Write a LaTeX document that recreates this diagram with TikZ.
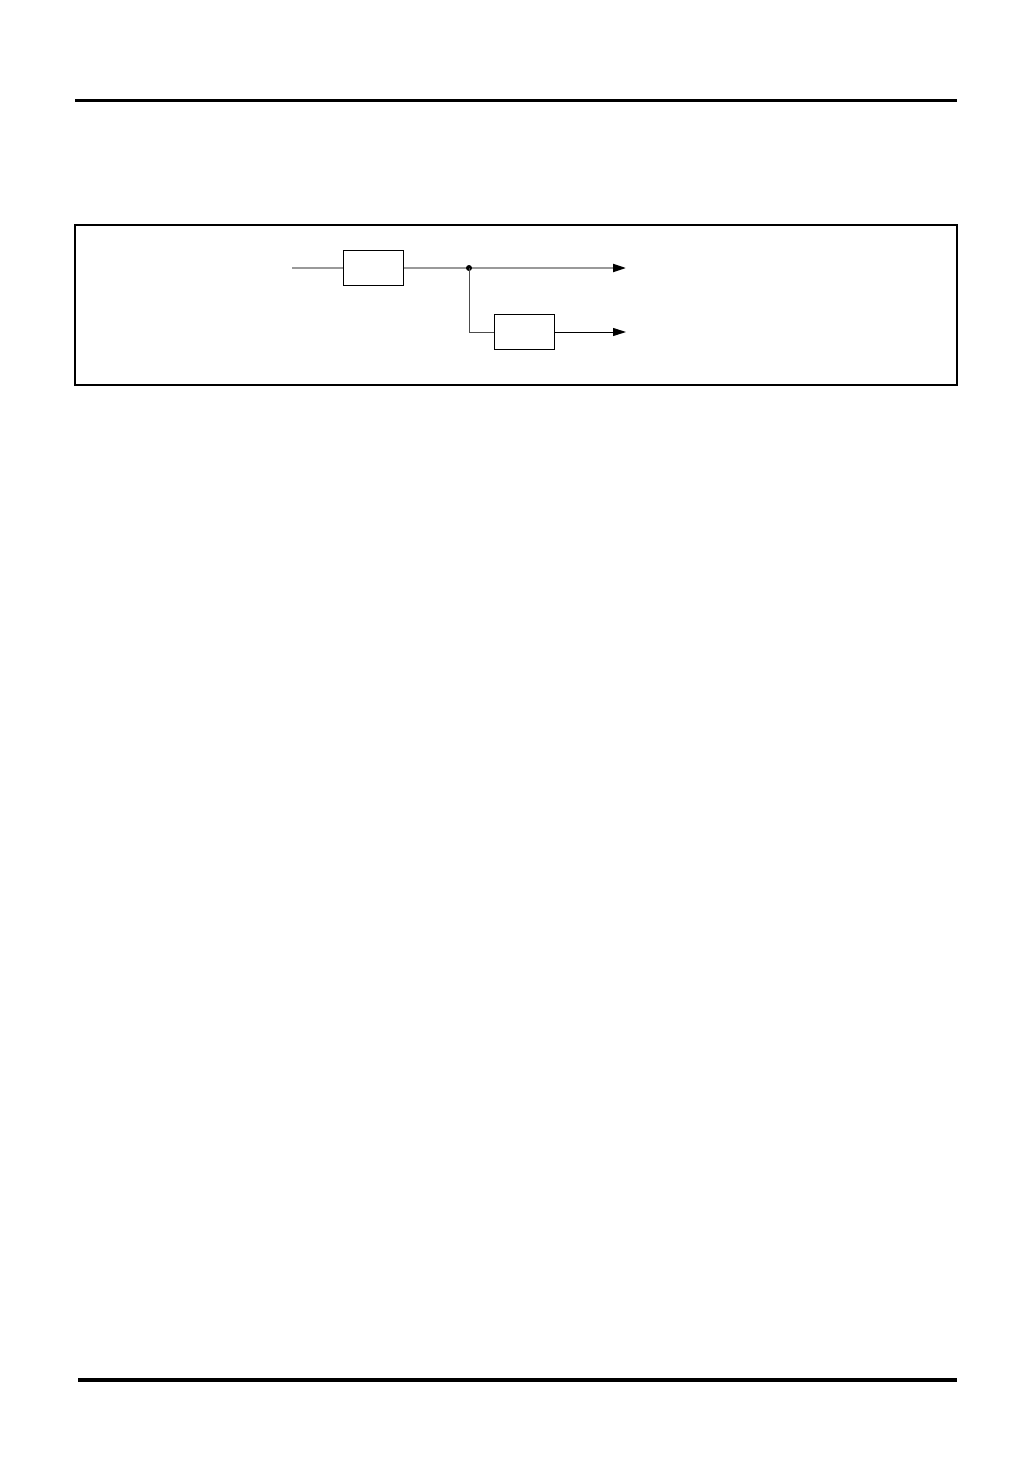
\documentclass[tikz,border=0pt]{standalone}
\usepackage{tikz}
\usetikzlibrary{arrows.meta}

\begin{document}
\begin{tikzpicture}[x=1pt,y=-1pt,
    block/.style={draw,line width=1pt,minimum width=60pt,minimum height=35pt,inner sep=0pt},
    sig/.style={line width=2pt,draw=black!40},
    wire/.style={line width=1pt},
    tip/.style={-{Triangle[length=13pt,width=8pt,color=black]}}]
    \useasboundingbox (0,0) rectangle (1032,1458);

    % Page rules
    \draw[line width=3pt] (75,101) -- (957,101);
    \draw[line width=4pt] (78,1380) -- (957,1380);

    % Frame
    \draw[line width=1.2pt] (75,225) rectangle (957,385);

    % Blocks
    \node[block] (b1) at (373,268) {};
    \node[block] (b2) at (524,332) {};

    % Signal path
    \coordinate (in) at (292,268);
    \coordinate (split) at (469,268);
    \coordinate (out1) at (626,268);
    \coordinate (out2) at (626,332);
    \draw[sig] (in) -- (b1.west);
    \draw[sig] (b1.east) -- (split);
    \draw[sig,tip] (split) -- (out1);
    \fill (split) circle (3pt);

    % Branch
    \draw[wire,draw=black!70] (split) |- (b2.west);
    \draw[wire,tip] (b2.east) -- (out2);
\end{tikzpicture}
\end{document}
